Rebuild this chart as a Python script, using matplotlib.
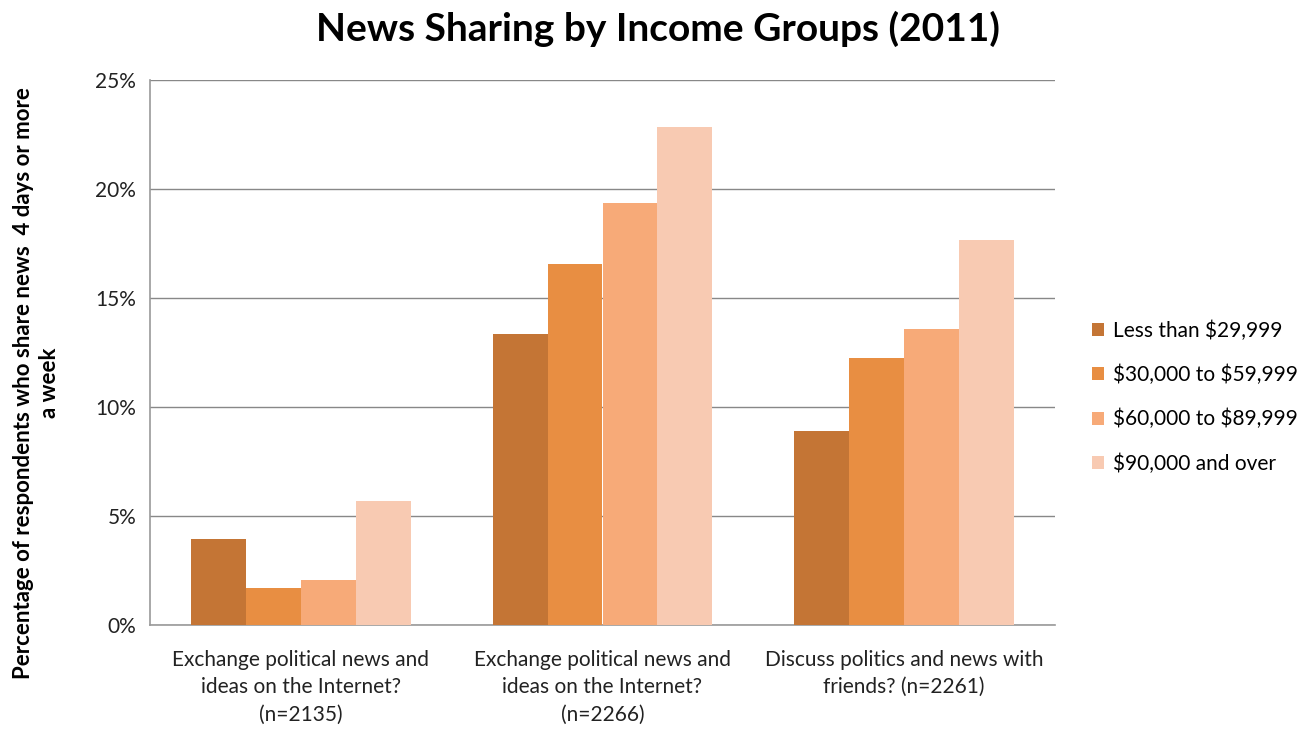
import matplotlib.pyplot as plt
import numpy as np
from matplotlib.ticker import FuncFormatter

plt.rcParams['font.family'] = ['Lato', 'DejaVu Sans']

questions = ['Exchange political news and\nideas on the Internet?\n(n=2135)',
             'Exchange political news and\nideas on the Internet?\n(n=2266)',
             'Discuss politics and news with\nfriends? (n=2261)']
groups = ['Less than \\$29,999', '\\$30,000 to \\$59,999',
          '\\$60,000 to \\$89,999', '\\$90,000 and over']
under_30k = [3.95, 13.35, 8.9]
from_30k = [1.7, 16.55, 12.25]
from_60k = [2.05, 19.35, 13.6]
over_90k = [5.7, 22.85, 17.65]
colors = ['#C47535', '#E88E42', '#F7AA78', '#F8CAB2']

fig = plt.figure(figsize=(13.15, 7.3), dpi=100)
ax = fig.add_axes([150/1315, 105/730, 905/1315, 545/730])

x = np.arange(len(questions))
w = 0.182
series = [under_30k, from_30k, from_60k, over_90k]
for i, vals in enumerate(series):
    ax.bar(x + (i - 1.5) * w, vals, w, color=colors[i], label=groups[i], zorder=3)

ax.set_xlim(-0.5, 2.5)
ax.set_ylim(0, 25)
ax.set_yticks(range(0, 26, 5))
ax.yaxis.set_major_formatter(FuncFormatter(lambda v, p: f'{v:.0f}%'))
ax.yaxis.grid(True, color='#888888', linewidth=1, zorder=0)
ax.set_xticks(x)
ax.set_xticklabels(questions, fontsize=15, color='#222222', linespacing=1.45)
ax.tick_params(axis='y', labelsize=15, colors='#222222', length=0, pad=10)
ax.tick_params(axis='x', length=0, pad=18)
for s in ['top', 'right']:
    ax.spines[s].set_visible(False)
for s in ['left', 'bottom']:
    ax.spines[s].set_color('#999999')
    ax.spines[s].set_linewidth(1.2)

ax.set_ylabel('Percentage of respondents who share news  4 days or more\na week',
              fontsize=16, fontweight='bold', linespacing=1.3)
ax.yaxis.set_label_coords(-0.099, 0.444)
fig.suptitle('News Sharing by Income Groups (2011)', fontsize=28, fontweight='bold',
             x=658/1315, y=0.985)

ax.legend(loc='center left', bbox_to_anchor=(1.02, 0.418), frameon=False,
          fontsize=15, handlelength=0.6, handleheight=0.6, labelspacing=1.15,
          handletextpad=0.4)

fig.savefig('out.png', dpi=100)
